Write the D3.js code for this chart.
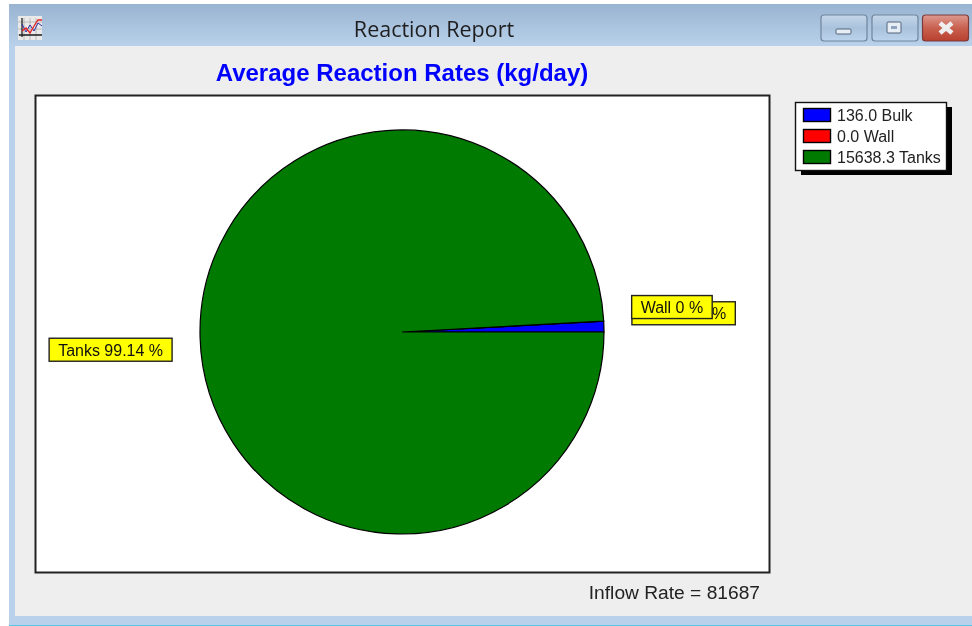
<!DOCTYPE html>
<html>
<head>
<meta charset="utf-8">
<title>Reaction Report</title>
<script src="https://cdn.jsdelivr.net/npm/d3@7/dist/d3.min.js"></script>
<style>
  html, body { margin: 0; padding: 0; background: #fff; overflow: hidden; }
  svg { display: block; filter: blur(0.35px); }
  text { font-family: "Liberation Sans", Arial, sans-serif; }
</style>
</head>
<body>
<svg width="972" height="626"></svg>
<script>
var categories = ["Bulk", "Wall", "Tanks"];
var rates = [136.0, 0.0, 15638.3];
var rateLabels = ["136.0", "0.0", "15638.3"];
var percentLabels = ["0.86", "0", "99.14"];
var colors = ["#0000ff", "#ff0000", "#007a00"];

var svg = d3.select("svg");

// window chrome
var defs = svg.append("defs");
var head = defs.append("linearGradient").attr("id", "head").attr("x2", 0).attr("y2", 1);
head.append("stop").attr("offset", 0).attr("stop-color", "#99b4d1");
head.append("stop").attr("offset", 1).attr("stop-color", "#b9d1ea");
var btn = defs.append("linearGradient").attr("id", "btn").attr("x2", 0).attr("y2", 1);
btn.append("stop").attr("offset", 0).attr("stop-color", "#c4d6e9");
btn.append("stop").attr("offset", 0.5).attr("stop-color", "#a9c2dc");
btn.append("stop").attr("offset", 1).attr("stop-color", "#bcd4ec");
var closeBtn = defs.append("linearGradient").attr("id", "closeBtn").attr("x2", 0).attr("y2", 1);
closeBtn.append("stop").attr("offset", 0).attr("stop-color", "#dd9a90");
closeBtn.append("stop").attr("offset", 0.5).attr("stop-color", "#c9604f");
closeBtn.append("stop").attr("offset", 1).attr("stop-color", "#b9402f");

svg.append("rect").attr("x", 9).attr("y", 4).attr("width", 963).attr("height", 621).attr("fill", "#b9d1ea");
svg.append("rect").attr("x", 9).attr("y", 4).attr("width", 963).attr("height", 42).attr("fill", "url(#head)");
svg.append("rect").attr("x", 9).attr("y", 625).attr("width", 963).attr("height", 1).attr("fill", "#5cc3e8");
svg.append("rect").attr("x", 15).attr("y", 46).attr("width", 957).attr("height", 570).attr("fill", "#eeeeee");

svg.append("text").attr("x", 434).attr("y", 37)
  .attr("text-anchor", "middle")
  .style("font-family", "'Open Sans', sans-serif")
  .style("font-size", "21.5px")
  .attr("fill", "#1e1e1e")
  .text("Reaction Report");

// title bar icon
var icon = svg.append("g").attr("transform", "translate(18,16)");
icon.append("rect").attr("width", 24).attr("height", 24).attr("fill", "#e9e9e9");
icon.append("path").attr("d", "M0 6H24M0 13H24M0 19H24M6 2V24M12 2V24M18 2V24").attr("fill", "none").attr("stroke", "#aaa").attr("stroke-width", 0.7);
icon.append("path").attr("d", "M4 2V21M1 19H24").attr("fill", "none").attr("stroke", "#222").attr("stroke-width", 1.3);
icon.append("path").attr("d", "M4 8L8 16L12 9L16 15L20 7L24 10").attr("fill", "none").attr("stroke", "#2a2aa0").attr("stroke-width", 1);
icon.append("path").attr("d", "M4 15L8 12L12 17L16 10L20 4H24").attr("fill", "none").attr("stroke", "#e82020").attr("stroke-width", 1.3);

// window buttons
[[821, "url(#btn)", "#71859c"], [872, "url(#btn)", "#71859c"], [922.5, "url(#closeBtn)", "#7c3a3a"]].forEach(function(b) {
  svg.append("rect").attr("x", b[0]).attr("y", 15).attr("width", 46).attr("height", 26).attr("rx", 3)
    .attr("fill", b[1]).attr("stroke", b[2]).attr("stroke-width", 1.2);
});
svg.append("rect").attr("x", 836).attr("y", 29).attr("width", 15).attr("height", 5).attr("rx", 1)
  .attr("fill", "#e6edf5").attr("stroke", "#54657a");
svg.append("rect").attr("x", 887).attr("y", 22).attr("width", 14).attr("height", 11).attr("rx", 1)
  .attr("fill", "#e6edf5").attr("stroke", "#54657a");
svg.append("rect").attr("x", 891).attr("y", 26).attr("width", 6).attr("height", 3)
  .attr("fill", "#8fa5bd");
svg.append("path").attr("d", "M940 23L952 33M952 23L940 33")
  .attr("stroke", "#eeeeee").attr("stroke-width", 4.5).attr("fill", "none");

// chart title
svg.append("text").attr("x", 402).attr("y", 81)
  .attr("text-anchor", "middle")
  .style("font-size", "24px").style("font-weight", "bold")
  .attr("fill", "#0000ff")
  .text("Average Reaction Rates (kg/day)");

// plot panel
svg.append("rect").attr("x", 35.5).attr("y", 95.5).attr("width", 734).attr("height", 477)
  .attr("fill", "#fff").attr("stroke", "#222").attr("stroke-width", 2);

// pie, counter-clockwise from east
var cx = 402, cy = 332, radius = 202;
var slices = d3.pie().sort(null).startAngle(Math.PI / 2).endAngle(Math.PI / 2 - 2 * Math.PI)(rates);
var arc = d3.arc().innerRadius(0).outerRadius(radius);
var color = d3.scaleOrdinal().domain(categories).range(colors);

var pie = svg.append("g").attr("transform", "translate(" + cx + "," + cy + ")");
pie.selectAll("path")
  .data(slices)
  .enter().append("path")
  .attr("d", arc)
  .attr("fill", function(d, i) { return color(categories[i]); })
  .attr("stroke", "#000")
  .attr("stroke-width", 1.2);

// callouts sit just outside the pie at each slice's mid angle
var labelArc = d3.arc().innerRadius(radius + 28).outerRadius(radius + 28);
var labelOrder = [0, 2, 1];
labelOrder.forEach(function(i) {
  var p = labelArc.centroid(slices[i]);
  var txt = categories[i] + " " + percentLabels[i] + " %";
  var g = svg.append("g");
  var t = g.append("text").style("font-size", "16px").attr("fill", "#111").text(txt);
  var w = t.node().getComputedTextLength() + 18;
  var h = 23;
  var east = p[0] > 0;
  var x = cx + p[0] - (east ? 0 : w);
  var y = cy + p[1] - (east ? h + 1 : 0);
  g.insert("rect", "text").attr("x", x).attr("y", y).attr("width", w).attr("height", h)
    .attr("fill", "#ffff00").attr("stroke", "#222").attr("stroke-width", 1.4);
  t.attr("x", x + 9).attr("y", y + 17.5);
});

// legend
var lx = 795, ly = 102, lw = 151, lh = 68;
svg.append("rect").attr("x", lx + 6).attr("y", ly + 5).attr("width", lw).attr("height", lh).attr("fill", "#000");
svg.append("rect").attr("x", lx + 0.5).attr("y", ly + 0.5).attr("width", lw).attr("height", lh)
  .attr("fill", "#fff").attr("stroke", "#111").attr("stroke-width", 1.4);
var rowY = d3.scalePoint().domain(categories).range([ly + 13, ly + 55]);
var rows = svg.selectAll(".row").data(categories).enter().append("g").attr("class", "row")
  .attr("transform", function(d) { return "translate(0," + rowY(d) + ")"; });
rows.append("rect").attr("x", lx + 8.5).attr("y", -6.5).attr("width", 27).attr("height", 13)
  .attr("fill", function(d) { return color(d); })
  .attr("stroke", "#000").attr("stroke-width", 1.4);
rows.append("text").attr("x", lx + 42).attr("y", 5.5)
  .style("font-size", "16px").attr("fill", "#222")
  .text(function(d, i) { return rateLabels[i] + " " + d; });

// footer
svg.append("text").attr("x", 760).attr("y", 599)
  .attr("text-anchor", "end")
  .style("font-size", "19.2px").attr("fill", "#222")
  .text("Inflow Rate = 81687");
</script>
</body>
</html>
